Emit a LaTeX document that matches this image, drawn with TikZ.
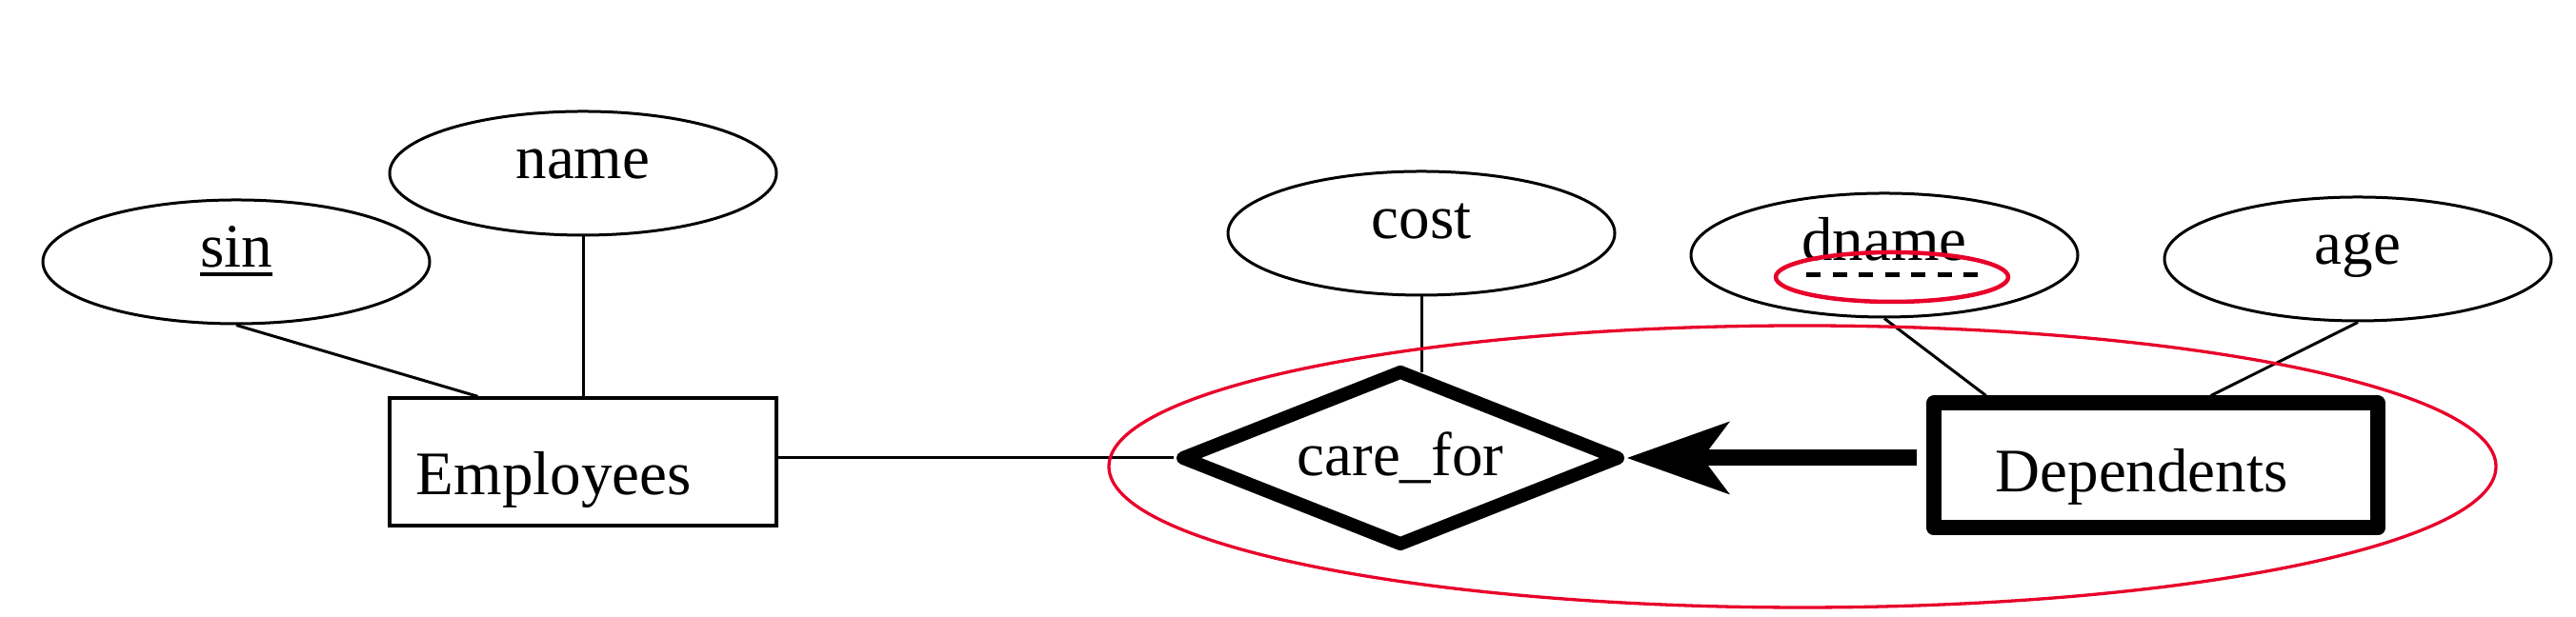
\documentclass[tikz,border=0pt]{standalone}
\usepackage{fontspec}
\setmainfont{Liberation Serif}
\usetikzlibrary{arrows.meta, calc, positioning, shapes.geometric}
\definecolor{markred}{RGB}{232,0,42}
\newcommand{\keyuline}[1]{\setbox0\hbox{#1}\rlap{\rule[-0.09cm]{\wd0}{0.04cm}}\box0}

\begin{document}
\begin{tikzpicture}[
    font=\fontsize{18.5pt}{22pt}\selectfont,
    attr/.style={draw, ellipse, line width=0.03cm, minimum width=4.06cm, minimum height=1.30cm, inner sep=0pt, text height=0.32cm, text depth=0.2cm},
    entity/.style={draw, rectangle, inner sep=0pt},
    link/.style={line width=0.03cm}
]
    \useasboundingbox (0,0) rectangle (27.04,6.48);

    % Attributes
    \node[attr] (sin) at (2.48,3.73) {\keyuline{sin}};
    \node[attr] (name) at (6.12,4.66) {name};
    \node[attr] (cost) at (14.92,4.03) {cost};
    \node[attr] (dname) at (19.78,3.80) {dname};
    \node[attr] (age) at (24.75,3.76) {age};

    % Entities
    \node[entity, line width=0.033cm, minimum width=4.06cm, minimum height=1.34cm] (emp) at (6.12,1.63) {};
    \node[anchor=base west, inner sep=0pt] (emplabel) at (4.36,1.28) {Employees};
    \node[entity, line width=0.16cm, line join=round, minimum width=4.66cm, minimum height=1.31cm] (dep) at (22.63,1.59) {};
    \node[anchor=base west, inner sep=0pt] (deplabel) at (20.94,1.31) {Dependents};

    % Relationship
    \node[draw, diamond, aspect=2.5, line width=0.14cm, line join=round, minimum width=4.62cm, minimum height=1.86cm, inner sep=0pt] (care) at (14.70,1.67) {care\_for};

    % Partial key
    \draw[line width=0.05cm, dash pattern=on 0.15cm off 0.125cm] ($(dname.center)+(-0.82,-0.21)$) -- ++(1.89,0);

    % Connectors
    \draw[link] (sin.south) -- ($(emp.north west)!0.23!(emp.north east)$);
    \draw[link] (name.south) -- (emp.north);
    \draw[link] (cost.south) -- (cost.south |- care.75);
    \draw[link] (emp.east |- care.west) -- (care.west);
    \draw[link] (dname.south) -- ($(dep.north west)!0.13!(dep.north east)$);
    \draw[link] (age.south) -- ($(dep.north west)!0.62!(dep.north east)$);
    \draw[line width=0.17cm, -{Stealth[length=1.08cm, width=0.77cm, inset=0.29cm, line width=0pt]}, shorten <=0.1cm] (dep.west |- care.east) -- (care.east);

    % Red marks
    \node[draw=markred, ellipse, line width=0.033cm, minimum width=14.56cm, minimum height=2.96cm, inner sep=0pt] (weakset) at (18.92,1.58) {};
    \node[draw=markred, ellipse, line width=0.045cm, minimum width=2.44cm, minimum height=0.52cm, inner sep=0pt] (keymark) at (19.86,3.57) {};
\end{tikzpicture}
\end{document}
